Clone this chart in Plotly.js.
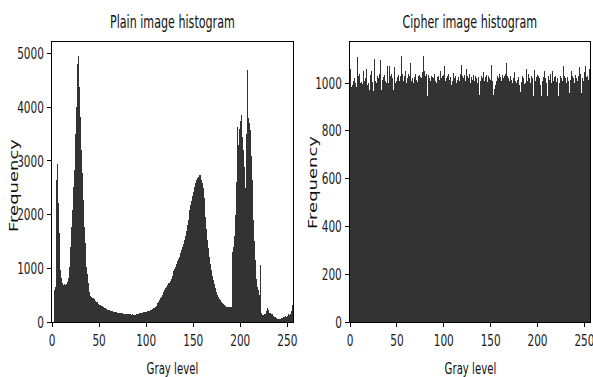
<!DOCTYPE html>
<html>
<head>
<meta charset="utf-8">
<script src="https://cdn.plot.ly/plotly-3.0.1.min.js"></script>
<style>
  html, body { margin: 0; padding: 0; background: #ffffff; }
  #chart { width: 593px; height: 377px; }
</style>
</head>
<body>
<div id="chart"></div>
<script>
// Gray levels 0..255 (histogram bins)
const grayLevels = [];
for (let i = 0; i < 256; i++) grayLevels.push(i);

// Plain image histogram counts
const plainCounts = [
  0,0,600,650,2650,2940,2210,1650,1280,970, 820,725,690,700,690,710,750,820,1030,1400,
  1770,2080,2520,2830,3510,3940,4000,4810,4950,4380, 3820,3200,2770,2270,1770,1470,1030,900,725,560,
  480,470,460,450,440,420,400,380,370,340, 316,310,300,290,285,270,260,240,230,223,
  225,223,210,200,200,195,190,185,180,175, 175,173,165,160,162,158,150,155,150,148,
  150,145,149,140,135,140,132,130,135,140, 150,155,160,158,165,170,175,180,185,190,
  192,200,205,210,220,230,245,254,270,285, 300,320,348,380,410,440,471,510,550,595,
  630,660,690,720,730,770,810,850,900,950, 990,1030,1080,1130,1170,1215,1280,1340,1400,1450,
  1520,1610,1700,1800,1900,2000,2090,2180,2260,2350, 2420,2520,2580,2640,2680,2700,2730,2740,2650,2580,
  2490,2300,2150,1950,1740,1525,1370,1215,1080,967, 850,780,700,640,565,510,470,430,410,390,
  370,350,330,310,295,285,285,280,280,280, 280,1300,1400,1600,2000,2600,3170,3630,3300,3600,
  3750,3860,3450,3200,2890,2490,3500,4700,3790,3700, 3570,3100,2640,2250,1900,1500,1150,800,660,600,
  500,1060,170,130,130,140,150,200,260,230, 200,170,165,155,150,120,100,90,70,56,
  60,50,60,70,80,100,95,100,105,100, 120,150,130,140,200,310
];

// Cipher image histogram counts
const cipherCounts = [
  1060,985,990,1010,1020,1000,985,1109,990,1030, 1040,1000,1005,995,1049,1010,1020,1058,990,1000,
  970,1035,1052,1005,1010,965,1100,1010,1000,1030, 1020,1040,1098,972,1015,1025,1035,1010,1000,1070,
  1020,1000,1072,1030,1040,1020,972,1066,1000,1010, 1025,1035,1010,1030,1114,1040,1020,1010,1030,1052,
  1000,1020,1040,1030,1084,1010,1020,1000,1025,1040, 1015,1005,1087,1030,1035,1025,1020,1045,1112,1050,
  1030,1040,944,1035,1020,1010,1030,1025,1055,1020, 1040,1010,1000,1025,1030,1015,1049,1020,1030,1035,
  1070,1010,1020,1030,1066,1040,1015,1025,990,1010, 1043,1020,1030,1000,1015,1025,1010,1040,1077,1030,
  962,1020,1035,1010,1058,1030,1020,1040,1000,1025, 1015,1035,1010,1030,1020,1000,1090,1025,951,1010,
  1030,1020,1045,1010,1025,1035,1005,1030,1020,1015, 1077,1010,1000,952,975,990,1010,1030,1020,1040,
  1025,1010,1035,1020,1030,1040,1084,1030,1025,1020, 1010,1030,1015,1000,1020,1045,1010,1000,1015,1025,
  990,962,1005,1030,1010,1020,995,1000,1058,1010, 1040,1020,1000,1030,1020,948,1055,1010,1025,1035,
  1000,1030,1020,990,944,1010,1025,1050,1020,1000, 948,1030,1015,1040,1000,1049,944,1010,1025,1030,
  1005,1020,944,1000,1030,1020,1010,1070,1030,1020, 1000,1025,1072,1010,960,1015,1052,1030,1020,1000,
  1035,1020,1010,1030,1066,1040,960,1020,1035,1010, 1045,1070,1025,1030,1015,1060
];

const xTicks = [0, 50, 100, 150, 200, 250];
const plainYTicks = [0, 1000, 2000, 3000, 4000, 5000];
const cipherYTicks = [0, 200, 400, 600, 800, 1000];
const titles = ['Plain image histogram', 'Cipher image histogram'];
const xLabel = 'Gray level';
const yLabel = 'Frequency';

const W = 593, H = 377;
const SQUEEZE = 0.655; // the reference text is horizontally condensed
const fam = '"DejaVu Sans", sans-serif';
const tickFont = { family: fam, size: 16, color: '#1a1a1a' };
const barColor = '#333333';

const traces = [
  { type: 'bar', x: grayLevels, y: plainCounts, xaxis: 'x', yaxis: 'y',
    width: 1, offset: 0, marker: { color: barColor, line: { width: 0 } }, hoverinfo: 'x+y' },
  { type: 'bar', x: grayLevels, y: cipherCounts, xaxis: 'x2', yaxis: 'y2',
    width: 1, offset: 0, marker: { color: barColor, line: { width: 0 } }, hoverinfo: 'x+y' }
];

const baseAxis = {
  ticks: 'outside', ticklen: 4, tickwidth: 1, tickcolor: '#000',
  showline: true, mirror: true, linecolor: '#000', linewidth: 1,
  showgrid: false, zeroline: false, tickfont: tickFont, fixedrange: true,
  ticklabeloverflow: 'allow'
};
const yDom = [(H - 322) / H, (H - 42) / H];

const layout = {
  width: W, height: H,
  margin: { l: 0, r: 0, t: 0, b: 0 },
  paper_bgcolor: '#ffffff', plot_bgcolor: '#ffffff',
  showlegend: false, bargap: 0,
  xaxis: Object.assign({}, baseAxis, { domain: [52 / W, 293 / W], range: [0, 256], tickvals: xTicks, anchor: 'y' }),
  yaxis: Object.assign({}, baseAxis, { domain: yDom, range: [0, 5214], tickvals: plainYTicks, anchor: 'x' }),
  xaxis2: Object.assign({}, baseAxis, { domain: [350 / W, 590 / W], range: [0, 256], tickvals: xTicks, anchor: 'y2' }),
  yaxis2: Object.assign({}, baseAxis, { domain: yDom, range: [0, 1172], tickvals: cipherYTicks, anchor: 'x2' }),
  annotations: [
    { text: titles[0], x: 172 / W, y: 1 - 22 / H, xref: 'paper', yref: 'paper', xanchor: 'center', yanchor: 'middle',
      showarrow: false, font: { family: fam, size: 17, color: '#111' } },
    { text: titles[1], x: 470 / W, y: 1 - 22 / H, xref: 'paper', yref: 'paper', xanchor: 'center', yanchor: 'middle',
      showarrow: false, font: { family: fam, size: 17, color: '#111' } },
    { text: xLabel, x: 172 / W, y: 1 - 369 / H, xref: 'paper', yref: 'paper', xanchor: 'center', yanchor: 'middle',
      showarrow: false, font: { family: fam, size: 15.5, color: '#111' } },
    { text: xLabel, x: 470 / W, y: 1 - 369 / H, xref: 'paper', yref: 'paper', xanchor: 'center', yanchor: 'middle',
      showarrow: false, font: { family: fam, size: 15.5, color: '#111' } },
    { text: yLabel, x: 13 / W, y: 1 - 186 / H, xref: 'paper', yref: 'paper', xanchor: 'center', yanchor: 'middle',
      textangle: -90, showarrow: false, font: { family: fam, size: 18, color: '#111' } },
    { text: yLabel, x: 312 / W, y: 1 - 183 / H, xref: 'paper', yref: 'paper', xanchor: 'center', yanchor: 'middle',
      textangle: -90, showarrow: false, font: { family: fam, size: 18, color: '#111' } }
  ]
};

Plotly.newPlot('chart', traces, layout, { staticPlot: true, displayModeBar: false }).then(function (gd) {
  // condense tick labels horizontally
  gd.querySelectorAll('.xtick text, .ytick text, .x2tick text, .y2tick text').forEach(function (t) {
    const len = t.getComputedTextLength();
    t.setAttribute('textLength', (len * SQUEEZE).toFixed(2));
    t.setAttribute('lengthAdjust', 'spacingAndGlyphs');
  });
  // condense annotation texts horizontally about their own centre
  gd.querySelectorAll('g.annotation').forEach(function (g) {
    const t = g.querySelector('text.annotation-text');
    if (!t) return;
    const r = t.getBoundingClientRect();
    const cx = r.left + r.width / 2;
    g.setAttribute('transform', 'translate(' + cx + ',0) scale(' + SQUEEZE + ',1) translate(' + (-cx) + ',0)');
  });
});
</script>
</body>
</html>
